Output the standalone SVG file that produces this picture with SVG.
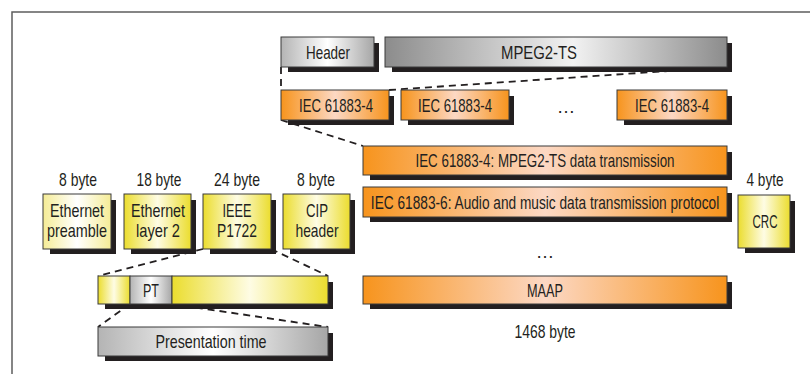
<svg xmlns="http://www.w3.org/2000/svg" width="810" height="374" viewBox="0 0 810 374">
  <defs>
    <linearGradient id="gOrange" x1="0" y1="0" x2="1" y2="0">
      <stop offset="0" stop-color="#f7941d"/>
      <stop offset="0.5" stop-color="#fcd8c4"/>
      <stop offset="1" stop-color="#f7941d"/>
    </linearGradient>
    <linearGradient id="gYellow" x1="0" y1="0" x2="1" y2="0">
      <stop offset="0" stop-color="#ebdd2e"/>
      <stop offset="0.5" stop-color="#fefce4"/>
      <stop offset="1" stop-color="#ebdd2e"/>
    </linearGradient>
    <linearGradient id="gPale" x1="0" y1="0" x2="1" y2="0">
      <stop offset="0" stop-color="#f5ec96"/>
      <stop offset="0.5" stop-color="#ffffff"/>
      <stop offset="1" stop-color="#f5ec96"/>
    </linearGradient>
    <linearGradient id="gGrey" x1="0" y1="0" x2="1" y2="0">
      <stop offset="0" stop-color="#b4b4b4"/>
      <stop offset="0.5" stop-color="#ffffff"/>
      <stop offset="1" stop-color="#a6a6a6"/>
    </linearGradient>
    <linearGradient id="gDark" x1="0" y1="0" x2="1" y2="0">
      <stop offset="0" stop-color="#8c8c8c"/>
      <stop offset="0.55" stop-color="#f2f2f2"/>
      <stop offset="1" stop-color="#8c8c8c"/>
    </linearGradient>
    <style>
      .frame { fill: none; stroke: #5e5e5e; stroke-width: 1.5; }
      .shadow { fill: #231f20; }
      .box { stroke: #3a3a3a; stroke-width: 1; }
      .orange { fill: url(#gOrange); }
      .yellow { fill: url(#gYellow); }
      .pale { fill: url(#gPale); }
      .grey { fill: url(#gGrey); }
      .dark { fill: url(#gDark); }
      .dash { fill: none; stroke: #231f20; stroke-width: 1.8; stroke-dasharray: 7 5; }
      text { font-family: "Liberation Sans", Arial, sans-serif; font-size: 18.5px; fill: #231f20; text-anchor: middle; }
    </style>
  </defs>

  <!-- outer frame (top and left edges) -->
  <path class="frame" d="M12 374 V12 H810"/>

  <!-- dashed expansion lines -->
  <g id="connectors">
    <path class="dash" d="M281 67 L281 90"/>
    <path class="dash" d="M389 90 L727 67"/>
    <path class="dash" d="M281 120 L363 146"/>
    <path class="dash" d="M203 249 L98 276"/>
    <path class="dash" d="M271 249 L328 276"/>
    <path class="dash" d="M130 304 L98 327"/>
    <path class="dash" d="M172 304 L328 327"/>
  </g>

  <!-- MPEG2-TS packet -->
  <g id="header">
    <rect class="shadow" x="288" y="43" width="91" height="29"/>
    <rect class="box grey" x="281" y="37" width="93" height="30"/>
    <text x="328" y="59" textLength="44" lengthAdjust="spacingAndGlyphs">Header</text>
  </g>
  <g id="mpeg2ts">
    <rect class="shadow" x="392" y="43" width="340" height="29"/>
    <rect class="box dark" x="385" y="37" width="342" height="30"/>
    <text x="539" y="59" textLength="76" lengthAdjust="spacingAndGlyphs">MPEG2-TS</text>
  </g>

  <!-- IEC 61883-4 source packets -->
  <g id="iec1">
    <rect class="shadow" x="288" y="96" width="106" height="29"/>
    <rect class="box orange" x="281" y="90" width="108" height="30"/>
    <text x="336" y="112" textLength="74" lengthAdjust="spacingAndGlyphs">IEC 61883-4</text>
  </g>
  <g id="iec2">
    <rect class="shadow" x="408" y="96" width="106" height="29"/>
    <rect class="box orange" x="401" y="90" width="108" height="30"/>
    <text x="455" y="112" textLength="74" lengthAdjust="spacingAndGlyphs">IEC 61883-4</text>
  </g>
  <text x="566" y="113" textLength="20" lengthAdjust="spacing">…</text>
  <g id="iec3">
    <rect class="shadow" x="624" y="96" width="108" height="29"/>
    <rect class="box orange" x="617" y="90" width="110" height="30"/>
    <text x="672" y="112" textLength="74" lengthAdjust="spacingAndGlyphs">IEC 61883-4</text>
  </g>

  <!-- Ethernet frame fields -->
  <g id="preamble">
    <text x="78" y="186" textLength="38" lengthAdjust="spacingAndGlyphs">8 byte</text>
    <rect class="shadow" x="50" y="200" width="66" height="54"/>
    <rect class="box pale" x="43" y="194" width="68" height="55"/>
    <text x="77" y="217" textLength="54" lengthAdjust="spacingAndGlyphs">Ethernet</text>
    <text x="77" y="237" textLength="60" lengthAdjust="spacingAndGlyphs">preamble</text>
  </g>
  <g id="layer2">
    <text x="159" y="186" textLength="45" lengthAdjust="spacingAndGlyphs">18 byte</text>
    <rect class="shadow" x="131" y="200" width="65" height="54"/>
    <rect class="box yellow" x="124" y="194" width="67" height="55"/>
    <text x="158" y="217" textLength="54" lengthAdjust="spacingAndGlyphs">Ethernet</text>
    <text x="158" y="237" textLength="44" lengthAdjust="spacingAndGlyphs">layer 2</text>
  </g>
  <g id="p1722">
    <text x="237" y="186" textLength="46" lengthAdjust="spacingAndGlyphs">24 byte</text>
    <rect class="shadow" x="210" y="200" width="66" height="54"/>
    <rect class="box yellow" x="203" y="194" width="68" height="55"/>
    <text x="237" y="217" textLength="29" lengthAdjust="spacingAndGlyphs">IEEE</text>
    <text x="237" y="237" textLength="40" lengthAdjust="spacingAndGlyphs">P1722</text>
  </g>
  <g id="cip">
    <text x="316" y="186" textLength="38" lengthAdjust="spacingAndGlyphs">8 byte</text>
    <rect class="shadow" x="290" y="200" width="65" height="54"/>
    <rect class="box yellow" x="283" y="194" width="67" height="55"/>
    <text x="317" y="217" textLength="22" lengthAdjust="spacingAndGlyphs">CIP</text>
    <text x="317" y="237" textLength="43" lengthAdjust="spacingAndGlyphs">header</text>
  </g>

  <!-- payload protocols -->
  <g id="mpeg2ts-data">
    <rect class="shadow" x="370" y="152" width="362" height="28"/>
    <rect class="box orange" x="363" y="146" width="364" height="29"/>
    <text x="545" y="167" textLength="259" lengthAdjust="spacingAndGlyphs">IEC 61883-4: MPEG2-TS data transmission</text>
  </g>
  <g id="audio-music">
    <rect class="shadow" x="370" y="193" width="362" height="29"/>
    <rect class="box orange" x="363" y="187" width="364" height="30"/>
    <text transform="translate(545 209) scale(0.74 1)" x="0" y="0">IEC 61883-6: Audio and music data transmission protocol</text>
  </g>
  <text x="545" y="258" textLength="20" lengthAdjust="spacing">…</text>
  <g id="maap">
    <rect class="shadow" x="370" y="282" width="362" height="27"/>
    <rect class="box orange" x="363" y="276" width="364" height="28"/>
    <text x="545" y="297" textLength="36" lengthAdjust="spacingAndGlyphs">MAAP</text>
  </g>
  <text x="545" y="338" textLength="61" lengthAdjust="spacingAndGlyphs">1468 byte</text>

  <g id="crc">
    <text x="765" y="186" textLength="37" lengthAdjust="spacingAndGlyphs">4 byte</text>
    <rect class="shadow" x="745" y="201" width="50" height="52"/>
    <rect class="box yellow" x="738" y="195" width="52" height="53"/>
    <text x="765" y="228" textLength="25" lengthAdjust="spacingAndGlyphs">CRC</text>
  </g>

  <!-- IEEE P1722 header detail -->
  <g id="p1722-header">
    <rect class="shadow" x="105" y="282" width="228" height="27"/>
    <rect class="box yellow" x="98" y="276" width="32" height="28"/>
    <rect class="box grey" x="130" y="276" width="42" height="28"/>
    <rect class="box yellow" x="172" y="276" width="156" height="28"/>
    <text x="151" y="297" textLength="16" lengthAdjust="spacingAndGlyphs">PT</text>
  </g>
  <g id="presentation-time">
    <rect class="shadow" x="105" y="333" width="228" height="28"/>
    <rect class="box grey" x="98" y="327" width="230" height="29"/>
    <text x="211" y="348" textLength="111" lengthAdjust="spacingAndGlyphs">Presentation time</text>
  </g>
</svg>
